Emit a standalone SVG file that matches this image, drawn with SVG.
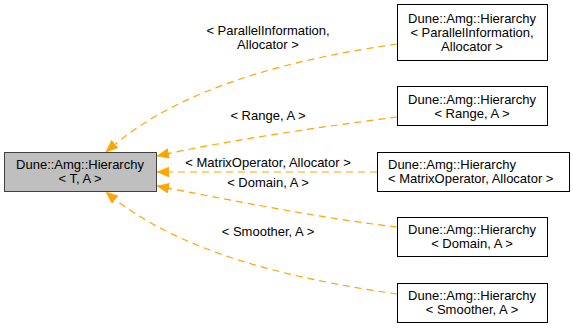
<svg xmlns="http://www.w3.org/2000/svg" width="573" height="329" viewBox="0 0 573 329">
  <style>
    .box { fill: #ffffff; stroke: #000000; stroke-width: 1; }
    .focus { fill: #bfbfbf; stroke: #404040; stroke-width: 1; }
    .lbl { font-family: "Liberation Sans", Arial, sans-serif; font-size: 13px; fill: #000000; text-anchor: middle; }
    .left { text-anchor: start; }
    .edge { fill: none; stroke: #ffa500; stroke-width: 1.2; stroke-dasharray: 7,5; marker-end: url(#arrow); }
  </style>
  <defs>
    <marker id="arrow" markerUnits="userSpaceOnUse" markerWidth="13" markerHeight="11" refX="12" refY="5" orient="auto">
      <path d="M0,0 L12,5 L0,10 z" fill="#ffa500" stroke="#ffa500" stroke-width="0.5"/>
    </marker>
  </defs>

  <!-- inheritance connectors (dashed, arrow at the base template) -->
  <g id="edges">
    <path class="edge" d="M397,44 C300,58 180,85 106,152"/>
    <path class="edge" d="M397,117 C320,127 230,140 157,156"/>
    <path class="edge" d="M377,172 L157,172"/>
    <path class="edge" d="M397,227 C320,218 230,200 157,186"/>
    <path class="edge" d="M397,294 C300,280 180,255 106,192"/>
    <text class="lbl" x="268" y="35">&lt; ParallelInformation,</text>
    <text class="lbl" x="268" y="49">Allocator &gt;</text>
    <text class="lbl" x="268" y="120">&lt; Range, A &gt;</text>
    <text class="lbl" x="268" y="167">&lt; MatrixOperator, Allocator &gt;</text>
    <text class="lbl" x="268" y="187">&lt; Domain, A &gt;</text>
    <text class="lbl" x="268" y="236">&lt; Smoother, A &gt;</text>
  </g>

  <g id="node-base">
    <rect class="focus" x="4.5" y="152.5" width="152" height="39"/>
    <text class="lbl" x="80" y="168.5">Dune::Amg::Hierarchy</text>
    <text class="lbl" x="80" y="182.5">&lt; T, A &gt;</text>
  </g>

  <g id="node-parallelinfo">
    <rect class="box" x="397.5" y="4.5" width="150" height="56"/>
    <text class="lbl" x="472" y="23">Dune::Amg::Hierarchy</text>
    <text class="lbl" x="472" y="37">&lt; ParallelInformation,</text>
    <text class="lbl" x="472" y="51">Allocator &gt;</text>
  </g>

  <g id="node-range">
    <rect class="box" x="397.5" y="86.5" width="150" height="39"/>
    <text class="lbl" x="472" y="103.5">Dune::Amg::Hierarchy</text>
    <text class="lbl" x="472" y="117.5">&lt; Range, A &gt;</text>
  </g>

  <g id="node-matrixoperator">
    <rect class="box" x="377.5" y="152.5" width="192" height="39"/>
    <text class="lbl left" x="388" y="168.5">Dune::Amg::Hierarchy</text>
    <text class="lbl left" x="388" y="182.5">&lt; MatrixOperator, Allocator &gt;</text>
  </g>

  <g id="node-domain">
    <rect class="box" x="397.5" y="217.5" width="150" height="39"/>
    <text class="lbl" x="472" y="234">Dune::Amg::Hierarchy</text>
    <text class="lbl" x="472" y="248">&lt; Domain, A &gt;</text>
  </g>

  <g id="node-smoother">
    <rect class="box" x="397.5" y="283.5" width="150" height="39"/>
    <text class="lbl" x="472" y="300">Dune::Amg::Hierarchy</text>
    <text class="lbl" x="472" y="314">&lt; Smoother, A &gt;</text>
  </g>
</svg>
